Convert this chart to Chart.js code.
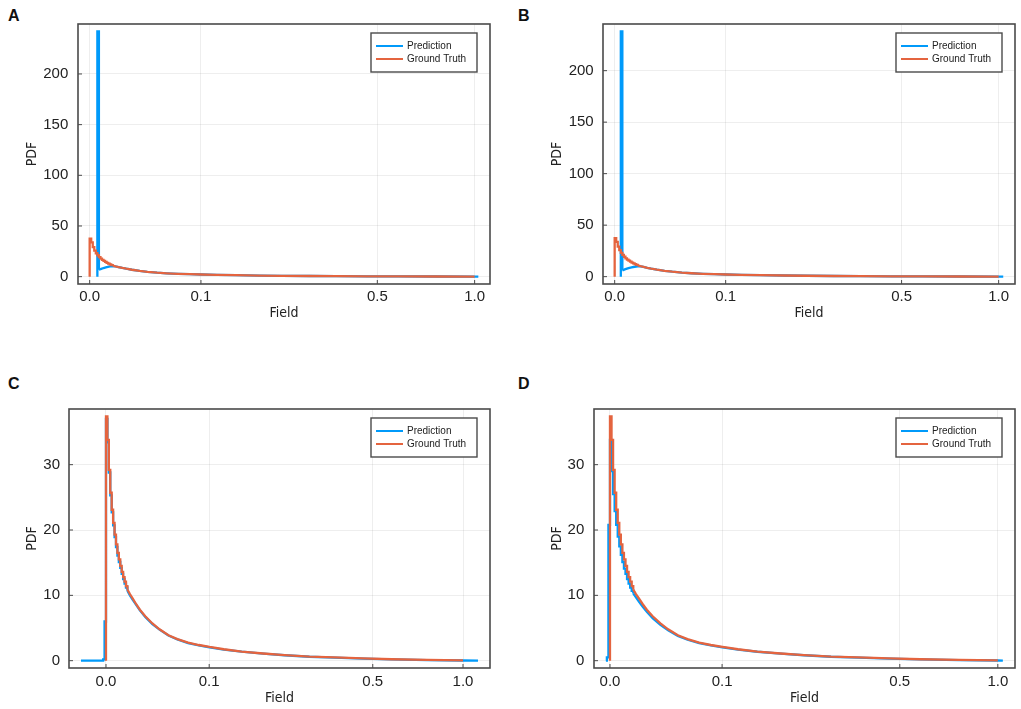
<!DOCTYPE html>
<html>
<head>
<meta charset="utf-8">
<script src="https://cdn.jsdelivr.net/npm/chart.js@4.4.1/dist/chart.umd.min.js"></script>
<style>
  body { margin: 0; background: #fff; width: 1021px; height: 709px; overflow: hidden; position: relative; }
  canvas { position: absolute; }
  .tag { position: absolute; font: bold 16px/1 "Liberation Sans", Arial, sans-serif; color: #111; }
</style>
</head>
<body>
<div class="tag" style="left:8px;top:8px">A</div>
<div class="tag" style="left:518px;top:8px">B</div>
<div class="tag" style="left:8px;top:376px">C</div>
<div class="tag" style="left:518px;top:376px">D</div>
<canvas id="panelA" style="left:0;top:0" width="510" height="330"></canvas>
<canvas id="panelB" style="left:521px;top:0" width="500" height="330"></canvas>
<canvas id="panelC" style="left:0;top:370px" width="510" height="339"></canvas>
<canvas id="panelD" style="left:521px;top:370px" width="500" height="339"></canvas>
<script>
// x axis is the field on a log(1+10x)/log(11) scale, values below are in that axis unit
const xTickField = [0.0, 0.1, 0.5, 1.0];
const xTickLabels = ["0.0", "0.1", "0.5", "1.0"];
const yTicksAB = [0, 50, 100, 150, 200];
const yTicksCD = [0, 10, 20, 30];

// ground truth histogram (same in all 4 panels): first bins as steps, then the smooth tail
const gtHeadU = [0, 0, 0.004, 0.008, 0.012, 0.016, 0.020, 0.024, 0.028, 0.032, 0.036, 0.040, 0.044, 0.048, 0.052, 0.056, 0.060];
const gtHeadPdf = [0, 37.4, 33.8, 29.2, 25.7, 23.1, 21.1, 19.3, 17.8, 16.5, 15.5, 14.5, 13.6, 12.8, 12.1, 11.4, 10.9];
const gtTailU = [0.060, 0.067, 0.075, 0.085, 0.095, 0.11, 0.13, 0.15, 0.175, 0.20, 0.23, 0.26, 0.29, 0.33, 0.38, 0.44, 0.50, 0.57, 0.64, 0.72, 0.80, 0.90, 1.00];
const gtTailPdf = [10.9, 10.2, 9.5, 8.6, 7.8, 6.8, 5.7, 4.8, 3.9, 3.3, 2.75, 2.4, 2.1, 1.75, 1.4, 1.1, 0.85, 0.62, 0.5, 0.35, 0.22, 0.12, 0.04];

// A: prediction
const predAHeadU = [0.020, 0.020, 0.024];
const predAHeadPdf = [0, 242, 6.8];
const predATailU = [0.024, 0.030, 0.036, 0.042, 0.050, 0.058, 0.067, 0.075, 0.085, 0.095, 0.11, 0.13, 0.15, 0.175, 0.20, 0.23, 0.26, 0.29, 0.33, 0.38, 0.44, 0.50, 0.57, 0.64, 0.72, 0.80, 0.90, 1.00, 1.0096];
const predATailPdf = [6.8, 7.7, 8.5, 9.2, 9.9, 10.3, 10.2, 9.5, 8.6, 7.8, 6.8, 5.7, 4.8, 3.9, 3.3, 2.75, 2.4, 2.1, 1.75, 1.4, 1.1, 0.85, 0.62, 0.5, 0.35, 0.22, 0.12, 0.04, 0];

// B: prediction
const predBHeadU = [0.016, 0.016, 0.020];
const predBHeadPdf = [0, 238, 6.1];
const predBTailU = [0.020, 0.028, 0.036, 0.044, 0.052, 0.060, 0.067, 0.075, 0.085, 0.095, 0.11, 0.13, 0.15, 0.175, 0.20, 0.23, 0.26, 0.29, 0.33, 0.38, 0.44, 0.50, 0.57, 0.64, 0.72, 0.80, 0.90, 1.00, 1.012];
const predBTailPdf = [6.1, 7.3, 8.3, 9.1, 9.6, 9.9, 10.0, 9.5, 8.6, 7.8, 6.8, 5.7, 4.8, 3.9, 3.3, 2.75, 2.4, 2.1, 1.75, 1.4, 1.1, 0.85, 0.62, 0.5, 0.35, 0.22, 0.12, 0.04, 0];

// C: prediction
const predCHeadU = [-0.070, -0.008, -0.004, 0, 0.004, 0.008, 0.012, 0.016, 0.020, 0.024, 0.028, 0.032, 0.036, 0.040, 0.044, 0.048, 0.052, 0.056, 0.060];
const predCHeadPdf = [0, 0.2, 6.0, 37.0, 33.4, 28.8, 25.3, 22.7, 20.7, 18.9, 17.4, 16.1, 15.1, 14.2, 13.3, 12.5, 11.8, 11.2, 10.7];
const predCTailU = [0.060, 0.067, 0.075, 0.085, 0.095, 0.11, 0.13, 0.15, 0.175, 0.20, 0.23, 0.26, 0.29, 0.33, 0.38, 0.44, 0.50, 0.57, 0.64, 0.72, 0.80, 0.90, 1.00, 1.042];
const predCTailPdf = [10.7, 10.0, 9.3, 8.5, 7.7, 6.7, 5.6, 4.75, 3.85, 3.25, 2.7, 2.35, 2.05, 1.7, 1.38, 1.08, 0.83, 0.6, 0.48, 0.33, 0.2, 0.1, 0.03, 0];

// D: prediction
const predDHeadU = [-0.0105, -0.008, -0.004, 0, 0.004, 0.008, 0.012, 0.016, 0.020, 0.024, 0.028, 0.032, 0.036, 0.040, 0.044, 0.048, 0.052, 0.056, 0.060];
const predDHeadPdf = [0, 0.5, 20.8, 33.8, 29.0, 25.5, 22.9, 20.8, 19.0, 17.5, 16.2, 15.1, 14.1, 13.3, 12.5, 11.8, 11.2, 10.7, 10.3];
const predDTailU = [0.060, 0.067, 0.075, 0.085, 0.095, 0.11, 0.13, 0.15, 0.175, 0.20, 0.23, 0.26, 0.29, 0.33, 0.38, 0.44, 0.50, 0.57, 0.64, 0.72, 0.80, 0.90, 1.00, 1.013];
const predDTailPdf = [10.3, 9.7, 9.0, 8.2, 7.5, 6.5, 5.5, 4.65, 3.8, 3.2, 2.68, 2.33, 2.03, 1.7, 1.37, 1.07, 0.83, 0.6, 0.48, 0.33, 0.2, 0.1, 0.03, 0];

const BLUE = "#009AFA";
const ORANGE = "#E4643F";
const GRID = "rgba(0,0,0,0.065)";
const FRAME = "#4a4a4a";
const FONT = '"Liberation Sans", Arial, sans-serif';
const NARROW = '"DejaVu Sans Condensed", "Liberation Sans", Arial, sans-serif';

const toAxis = (f) => Math.log(1 + 10 * f) / Math.log(11);
const pts = (us, ys) => us.map((u, i) => ({ x: u, y: ys[i] }));

// one histogram = stepped head + plain line tail, only the head shows in the legend
function series(label, color, headU, headY, tailU, tailY, order) {
  const common = { label, borderColor: color, borderWidth: 2.3, pointRadius: 0, order, fill: false };
  return [
    { ...common, data: pts(headU, headY), stepped: "before", inLegend: true },
    { ...common, data: pts(tailU, tailY), tension: 0 },
  ];
}

// Plots.jl style box, inner tick marks and framed legend
const plotsFrame = {
  id: "plotsFrame",
  afterDraw(chart) {
    const { ctx, chartArea: a } = chart;
    const xs = chart.scales.x, ys = chart.scales.y;
    ctx.save();
    ctx.strokeStyle = FRAME;
    ctx.lineWidth = 1;
    ctx.beginPath();
    xs.ticks.forEach((t) => {
      const p = xs.getPixelForValue(t.value);
      ctx.moveTo(p, a.bottom);
      ctx.lineTo(p, a.bottom - 4);
    });
    ys.ticks.forEach((t) => {
      const p = ys.getPixelForValue(t.value);
      ctx.moveTo(a.left, p);
      ctx.lineTo(a.left + 4, p);
    });
    ctx.stroke();
    ctx.lineWidth = 1.6;
    ctx.strokeRect(a.left, a.top, a.width, a.height);

    const entries = chart.data.datasets.filter((d) => d.inLegend);
    const w = 106, h = 39;
    const bx = a.right - 13 - w, by = a.top + 9;
    ctx.fillStyle = "#fff";
    ctx.fillRect(bx, by, w, h);
    ctx.lineWidth = 1.4;
    ctx.strokeRect(bx, by, w, h);
    ctx.font = "10px " + FONT;
    ctx.textBaseline = "middle";
    entries.forEach((d, i) => {
      const y = by + 13 + 13 * i;
      ctx.strokeStyle = d.borderColor;
      ctx.lineWidth = 2;
      ctx.beginPath();
      ctx.moveTo(bx + 5, y);
      ctx.lineTo(bx + 32, y);
      ctx.stroke();
      ctx.fillStyle = "#222";
      ctx.fillText(d.label, bx + 36, y);
    });
    ctx.restore();
  },
};

const panels = [
  { id: "panelA", pad: { top: 24, right: 20 }, yW: 78, xH: 46, xTickPad: 4, xTitlePad: 7.9, yTitlePad: 23.8, yTickPad: 9.7,
    xMin: -0.0303, xMax: 1.0399, yMin: -7.26, yMax: 249.3, yTicks: yTicksAB,
    pred: [predAHeadU, predAHeadPdf, predATailU, predATailPdf] },
  { id: "panelB", pad: { top: 24, right: 6 }, yW: 82, xH: 46, xTickPad: 4, xTitlePad: 7.9, yTitlePad: 28.3, yTickPad: 9.3,
    xMin: -0.0304, xMax: 1.0426, yMin: -7.14, yMax: 245.3, yTicks: yTicksAB,
    pred: [predBHeadU, predBHeadPdf, predBTailU, predBTailPdf] },
  { id: "panelC", pad: { top: 39, right: 20 }, yW: 69, xH: 41, xTickPad: 5, xTitlePad: 2.3, yTitlePad: 23.8, yTickPad: 9,
    xMin: -0.1036, xMax: 1.0756, yMin: -1.12, yMax: 38.52, yTicks: yTicksCD,
    pred: [predCHeadU, predCHeadPdf, predCTailU, predCTailPdf] },
  { id: "panelD", pad: { top: 39, right: 6 }, yW: 73, xH: 41, xTickPad: 5, xTitlePad: 2.3, yTitlePad: 28.3, yTickPad: 9.7,
    xMin: -0.0412, xMax: 1.0443, yMin: -1.12, yMax: 38.52, yTicks: yTicksCD,
    pred: [predDHeadU, predDHeadPdf, predDTailU, predDTailPdf] },
];

panels.forEach((p) => {
  const datasets = [
    ...series("Prediction", BLUE, p.pred[0], p.pred[1], p.pred[2], p.pred[3], 1),
    ...series("Ground Truth", ORANGE, gtHeadU, gtHeadPdf, gtTailU, gtTailPdf, 0),
  ];
  new Chart(document.getElementById(p.id), {
    type: "line",
    data: { datasets },
    plugins: [plotsFrame],
    options: {
      responsive: false,
      animation: false,
      events: [],
      layout: { padding: { left: 0, bottom: 0, top: p.pad.top, right: p.pad.right } },
      plugins: { legend: { display: false }, tooltip: { enabled: false } },
      scales: {
        x: {
          type: "linear",
          min: p.xMin,
          max: p.xMax,
          afterBuildTicks: (s) => { s.ticks = xTickField.map((f) => ({ value: toAxis(f) })); },
          afterFit: (s) => { s.height = p.xH; },
          grid: { color: GRID, lineWidth: 1, drawTicks: false },
          border: { display: false },
          ticks: {
            autoSkip: false, maxRotation: 0, padding: p.xTickPad, color: "#222",
            font: { family: FONT, size: 15 },
            callback: (v, i) => xTickLabels[i],
          },
          title: { display: true, text: "Field", color: "#222", font: { family: NARROW, size: 14 }, padding: { top: 0, bottom: p.xTitlePad } },
        },
        y: {
          type: "linear",
          min: p.yMin,
          max: p.yMax,
          afterBuildTicks: (s) => { s.ticks = p.yTicks.map((v) => ({ value: v })); },
          afterFit: (s) => { s.width = p.yW; },
          grid: { color: GRID, lineWidth: 1, drawTicks: false },
          border: { display: false },
          ticks: {
            autoSkip: false, padding: p.yTickPad, color: "#222",
            font: { family: FONT, size: 15 },
            callback: (v) => String(v),
          },
          title: { display: true, text: "PDF", color: "#222", font: { family: NARROW, size: 14 }, padding: { top: p.yTitlePad, bottom: 0 } },
        },
      },
    },
  });
});
</script>
</body>
</html>
